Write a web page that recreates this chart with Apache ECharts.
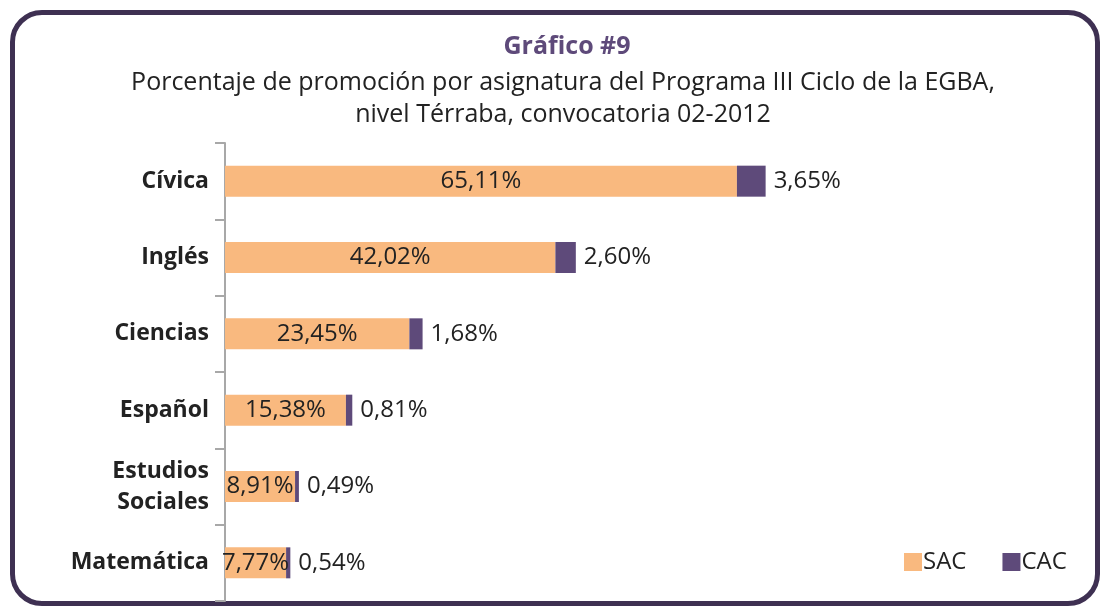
<!DOCTYPE html>
<html lang="es">
<head>
<meta charset="UTF-8">
<title>Gráfico #9</title>
<script src="https://cdn.jsdelivr.net/npm/echarts@6/dist/echarts.min.js"></script>
<style>
    body { margin: 0; background: #fff; }
    #frame {
        position: absolute; left: 10px; top: 10px; width: 1090px; height: 596px;
        border: 5px solid #3e3052; border-radius: 32px; box-sizing: border-box;
    }
    #main { position: absolute; left: 0; top: 0; width: 1103px; height: 612px; }
</style>
</head>
<body>
<div id="frame"></div>
<div id="main"></div>
<script>
    // datos
    let categorias = ['Cívica', 'Inglés', 'Ciencias', 'Español', 'Estudios\nSociales', 'Matemática'];
    let sac = [65.11, 42.02, 23.45, 15.38, 8.91, 7.77];
    let cac = [3.65, 2.60, 1.68, 0.81, 0.49, 0.54];

    let fmt = function (p) {
        return p.value.toFixed(2).replace('.', ',') + '%';
    };

    let chart = echarts.init(document.getElementById('main'));
    let option = {
        backgroundColor: 'transparent',
        textStyle: { fontFamily: 'Open Sans' },
        title: [
            {
                text: 'Gráfico #9',
                left: 562, top: 29, textAlign: 'center',
                textStyle: { color: '#5e4a7a', fontSize: 25, fontWeight: 'bold', fontFamily: 'Open Sans' }
            },
            {
                text: 'Porcentaje de promoción por asignatura del Programa III Ciclo de la EGBA,\nnivel Térraba, convocatoria 02-2012',
                left: 558, top: 62, textAlign: 'center',
                textStyle: { color: '#222', fontSize: 25, fontWeight: 'normal', fontFamily: 'Open Sans', lineHeight: 32, align: 'center' }
            }
        ],
        legend: {
            left: 899, top: 545,
            itemWidth: 18, itemHeight: 18, itemGap: 36,
            icon: 'rect',
            textStyle: { fontSize: 24, color: '#222', padding: [0, 0, 0, -4] },
            data: ['SAC', 'CAC']
        },
        grid: { left: 225, top: 143, width: 629, height: 458 },
        xAxis: { type: 'value', min: 0, max: 80, show: false },
        yAxis: {
            type: 'category',
            inverse: true,
            data: categorias,
            axisLine: { lineStyle: { color: '#a8a8a8', width: 2 } },
            axisTick: { show: true, length: 10, lineStyle: { color: '#a8a8a8', width: 2 } },
            axisLabel: {
                fontSize: 23, fontWeight: 'bold', color: '#222', margin: 16,
                lineHeight: 31, fontFamily: 'Open Sans'
            }
        },
        series: [
            {
                name: 'SAC', type: 'bar', stack: 'total', data: sac,
                barWidth: 31,
                itemStyle: { color: '#f9b97f' },
                label: { show: true, position: 'inside', formatter: fmt, fontSize: 24, color: '#222' }
            },
            {
                name: 'CAC', type: 'bar', stack: 'total', data: cac,
                barWidth: 31,
                itemStyle: { color: '#5e4a7a' },
                label: { show: true, position: 'right', distance: 8, formatter: fmt, fontSize: 24, color: '#222' }
            }
        ]
    };
    chart.setOption(option);
</script>
</body>
</html>
